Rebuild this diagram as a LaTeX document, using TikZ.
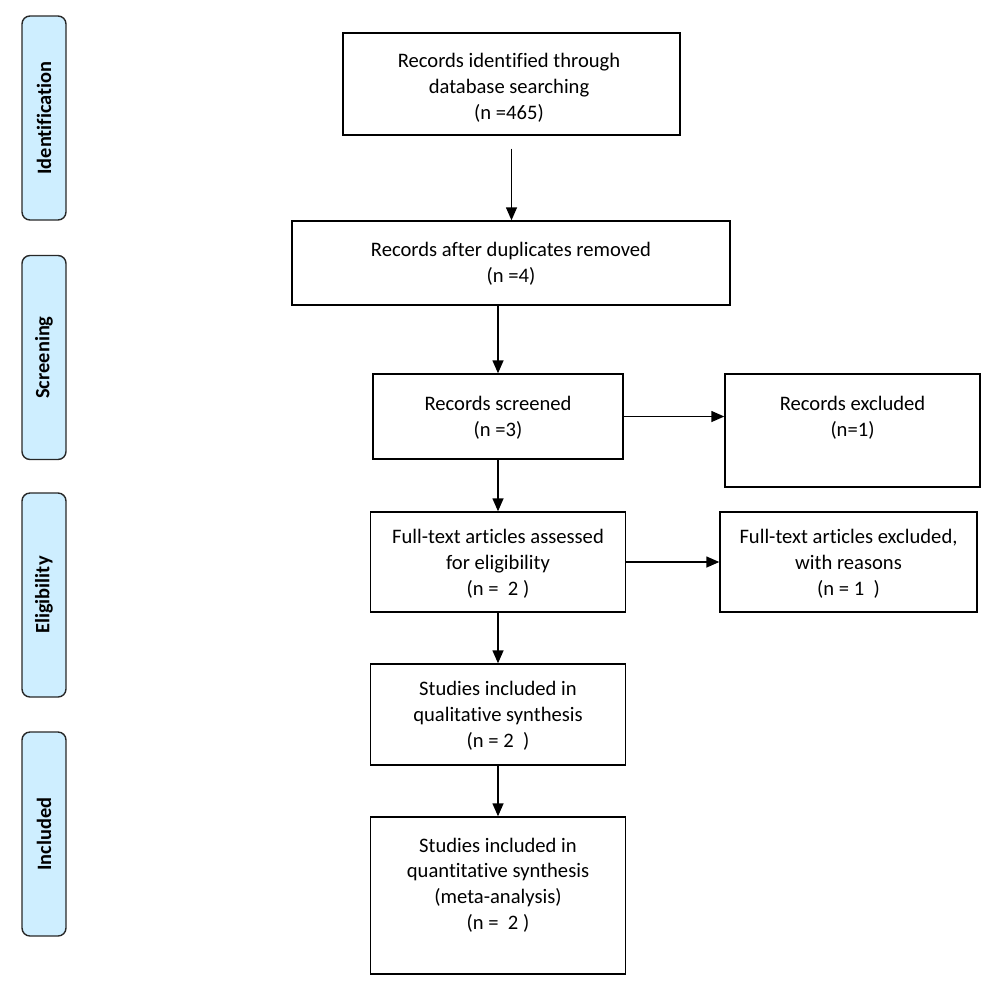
\documentclass[tikz,border=0pt]{standalone}
\usepackage{fontspec}
\setmainfont{Carlito}[Ligatures={NoCommon}]
\usetikzlibrary{arrows.meta}
\definecolor{sidefill}{RGB}{206,238,255}
\definecolor{sidedraw}{RGB}{40,40,40}
\tikzset{
  box/.style={draw=black, line width=1.4pt, inner sep=0pt},
  txt/.style={align=center, font=\fontsize{20.6}{25.8}\selectfont, inner sep=0pt},
  side/.style={draw=sidedraw, fill=sidefill, line width=1.4pt, rounded corners=8pt,
    minimum width=44pt, minimum height=204pt, inner sep=0pt},
  sidetxt/.style={rotate=90, font=\fontsize{20.4}{22}\selectfont\bfseries, inner sep=0pt},
  arr/.style={-{Triangle[length=13pt,width=11pt]}, line width=1.4pt},
}
\begin{document}
\begin{tikzpicture}[x=1pt,y=-1pt]
\useasboundingbox (0,0) rectangle (1000,986);
% side labels
\node[side] (s1) at (44,118) {};
\node[sidetxt] (s1t) at (s1.center) {Identification};
\node[side] (s2) at (44,357.5) {};
\node[sidetxt] (s2t) at (s2.center) {Screening};
\node[side] (s3) at (44,595) {};
\node[sidetxt] (s3t) at (s3.center) {Eligibility};
\node[side] (s4) at (44,834) {};
\node[sidetxt] (s4t) at (s4.center) {Included};
% boxes
\node[box, minimum width=337pt, minimum height=102pt] (b1) at (511.5,84) {};
\node[txt] (t1) at (509,88) {Records identified through\\database searching\\(n =465)};
\node[box, minimum width=438pt, minimum height=84pt] (b2) at (511,263) {};
\node[txt] (t2) at (511,263.5) {Records after duplicates removed\\(n =4)};
\node[box, minimum width=250pt, minimum height=85pt] (b3) at (498,416.5) {};
\node[txt] (t3) at (498,418) {Records screened\\(n =3)};
\node[box, minimum width=255pt, minimum height=113pt] (e1) at (852.5,430.5) {};
\node[txt] (te1) at (852.5,418) {Records excluded\\(n=1)};
\node[box, minimum width=255pt, minimum height=100pt] (b4) at (498,562) {};
\node[txt] (t4) at (498,564) {Full-text articles assessed\\for eligibility\\(n =\ \ 2 )};
\node[box, minimum width=257pt, minimum height=100pt] (e2) at (848.5,562) {};
\node[txt] (te2) at (848.5,564) {Full-text articles excluded,\\with reasons\\(n = 1\ \ )};
\node[box, minimum width=255pt, minimum height=101pt] (b5) at (498,714.5) {};
\node[txt] (t5) at (498,716) {Studies included in\\qualitative synthesis\\(n = 2\ \ )};
\node[box, minimum width=255pt, minimum height=157pt] (b6) at (498,895.5) {};
\node[txt] (t6) at (498,885) {Studies included in\\quantitative synthesis\\(meta-analysis)\\(n =\ \ 2 )};
% arrows
\draw[arr, shorten <=13pt] (b1.south) -- (b1.south |- b2.north);
\draw[arr] (b3.north |- b2.south) -- (b3.north);
\draw[arr] (b3.east) -- (b3.east -| e1.west);
\draw[arr] (b3.south) -- (b4.north);
\draw[arr] (b4.east) -- (b4.east -| e2.west);
\draw[arr] (b4.south) -- (b5.north);
\draw[arr] (b5.south) -- (b6.north);
\end{tikzpicture}
\end{document}
